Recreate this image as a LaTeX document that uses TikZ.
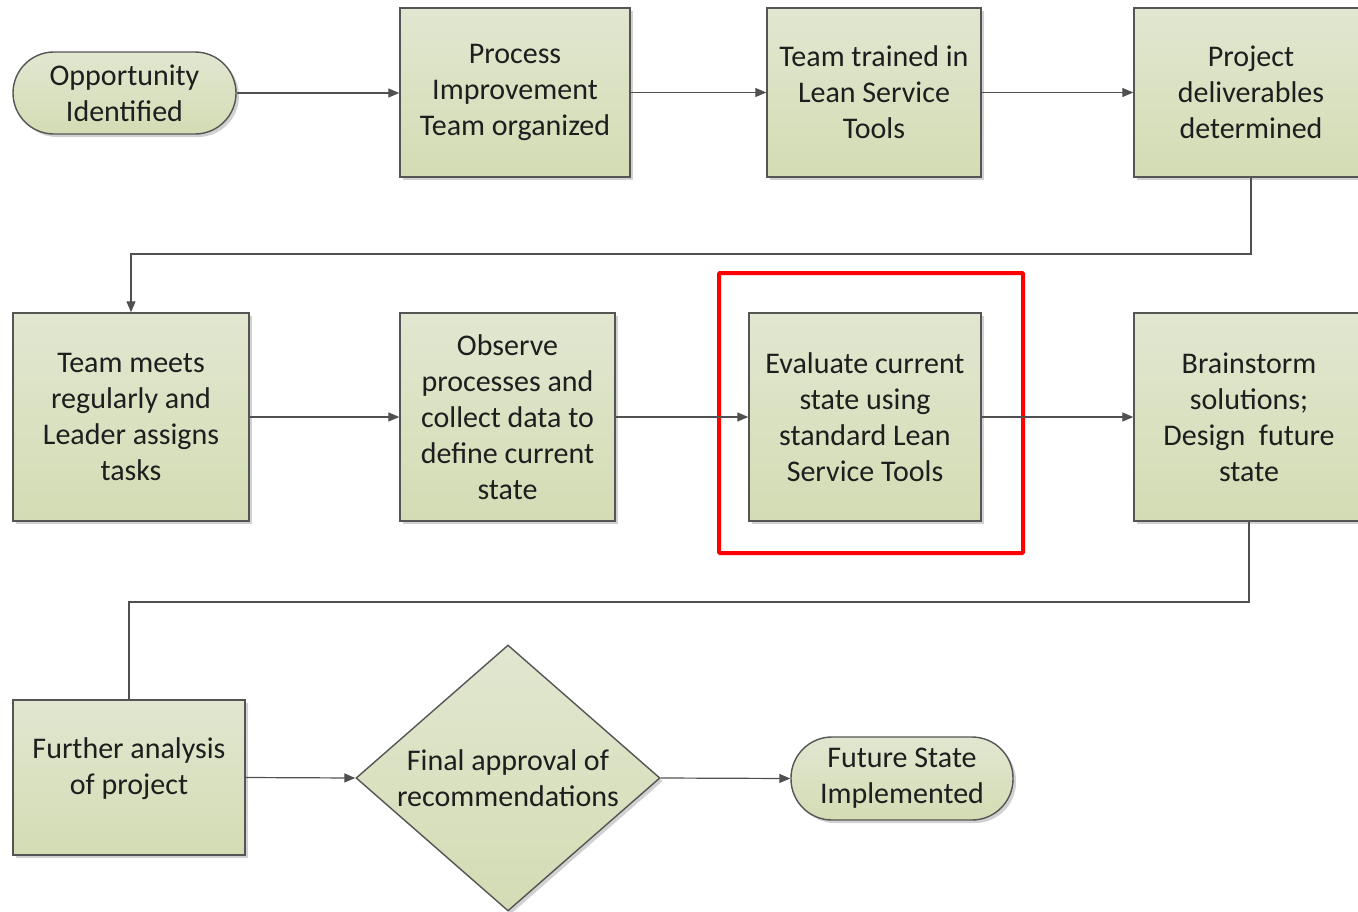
\documentclass[tikz,border=0pt]{standalone}
\usepackage{fontspec}
\setmainfont{Carlito}
\usetikzlibrary{shapes.geometric,arrows.meta,shadows}
\definecolor{boxtop}{HTML}{E1E7D0}
\definecolor{boxbot}{HTML}{D3DCB4}
\definecolor{edge}{HTML}{555555}
\definecolor{linec}{HTML}{505050}
\definecolor{txt}{HTML}{1E1E1E}
\tikzset{
  base/.style={draw=edge, line width=1.4pt, top color=boxtop, bottom color=boxbot,
    align=center, text=txt, inner sep=0pt,
    font=\fontsize{30}{36}\selectfont,
    drop shadow={shadow xshift=3pt, shadow yshift=-3pt, opacity=0.18, fill=black}},
  stepbox/.style={base, rectangle},
  term/.style={base, rectangle, rounded corners=41pt},
  decide/.style={base, diamond, shape aspect=1.14},
  conn/.style={draw=linec, line width=1.2pt},
  arr/.style={conn, -{Triangle[length=11pt,width=9pt]}},
}
\begin{document}
\begin{tikzpicture}[x=1pt,y=1pt]
\useasboundingbox (0,0) rectangle (1358,-911);
\clip (0,0) rectangle (1358,-911);
\fill[white] (0,0) rectangle (1358,-911);
% row 1
\node[term, minimum width=223pt, minimum height=82pt] (opp) at (124.5,-93) {Opportunity\\Identified};
\node[stepbox, minimum width=230pt, minimum height=169pt] (pi) at (515,-92.5) {Process\\Improvement\\Team organized};
\node[stepbox, minimum width=214pt, minimum height=169pt] (tt) at (874,-92.5) {Team trained in\\Lean Service\\Tools};
\node[stepbox, minimum width=234pt, minimum height=169pt] (pd) at (1251,-92.5) {Project\\deliverables\\determined};
% row 2
\node[stepbox, minimum width=236pt, minimum height=208pt] (tm) at (131,-417) {Team meets\\regularly and\\Leader assigns\\tasks};
\node[stepbox, minimum width=215pt, minimum height=208pt] (ob) at (507.5,-417) {Observe\\processes and\\collect data to\\define current\\state};
\node[stepbox, minimum width=232pt, minimum height=208pt] (ev) at (865,-417) {Evaluate current\\state using\\standard Lean\\Service Tools};
\node[stepbox, minimum width=230pt, minimum height=208pt] (bs) at (1249,-417) {Brainstorm\\solutions;\\Design\ \ future\\state};
% row 3
\node[stepbox, minimum width=232pt, minimum height=155pt, text depth=23pt] (fa) at (129,-777.5) {Further analysis\\of project};
\node[decide, minimum width=304pt, minimum height=266pt] (dm) at (508,-778) {Final approval of\\recommendations};
\node[term, minimum width=222pt, minimum height=83pt] (fs) at (902,-778.5) {Future State\\Implemented};
% highlight
\node[draw=red, line width=4pt, rounded corners=1pt, minimum width=304pt, minimum height=280pt, inner sep=0pt] (hl) at (871,-413) {};
% connectors
\coordinate (k1) at (0,-254);
\coordinate (k2) at (0,-602);
\draw[arr] (opp.east) -- (pi.west |- opp.east);
\draw[arr] (pi.east) -- (tt.west);
\draw[arr] (tt.east) -- (pd.west);
\draw[arr] (pd.south) -- (pd.south |- k1) -| (tm.north);
\draw[arr] (tm.east) -- (ob.west);
\draw[arr] (ob.east) -- (ev.west);
\draw[arr] (ev.east) -- (bs.west);
\draw[conn] (bs.south) -- (bs.south |- k2) -| (fa.north);
\draw[arr] (fa.east) -- (dm.west);
\draw[arr] (dm.east) -- (fs.west);
\end{tikzpicture}
\end{document}
